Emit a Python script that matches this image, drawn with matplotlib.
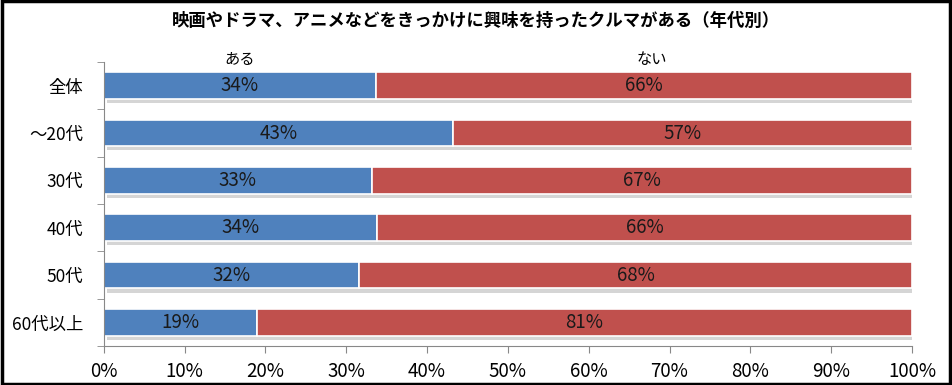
import matplotlib.pyplot as plt
import matplotlib.patheffects as pe
import numpy as np

plt.rcParams['font.family'] = ['Noto Sans CJK JP', 'DejaVu Sans']

# data (bar lengths, labels as printed)
categories = ['全体', '～20代', '30代', '40代', '50代', '60代以上']
yes_vals = [33.7, 43.2, 33.2, 33.8, 31.6, 18.9]
no_vals = [100 - v for v in yes_vals]
yes_labels = ['34%', '43%', '33%', '34%', '32%', '19%']
no_labels = ['66%', '57%', '67%', '66%', '68%', '81%']
series_names = ['ある', 'ない']

blue = '#4F81BD'
red = '#C0504D'

fig = plt.figure(figsize=(9.52, 3.85), dpi=100)
ax = fig.add_axes([0.109, 0.101, 0.849, 0.738])

y = np.arange(len(categories))
shadow = [pe.SimplePatchShadow(offset=(2, -3), shadow_rgbFace='#888888', alpha=0.35), pe.Normal()]

b1 = ax.barh(y, yes_vals, height=0.56, color=blue, edgecolor='white', linewidth=1.2)
b2 = ax.barh(y, no_vals, left=yes_vals, height=0.56, color=red, edgecolor='white', linewidth=1.2)
for b in list(b1) + list(b2):
    b.set_path_effects(shadow)

for i in range(len(categories)):
    ax.text(yes_vals[i] / 2, y[i], yes_labels[i], ha='center', va='center', fontsize=13.5, color='#1a1a1a')
    ax.text(yes_vals[i] + no_vals[i] / 2, y[i], no_labels[i], ha='center', va='center', fontsize=13.5, color='#1a1a1a')

# series names above the first bar
ax.text(yes_vals[0] / 2, -0.56, series_names[0], ha='center', va='center', fontsize=11)
ax.text(yes_vals[0] + no_vals[0] / 2 + 1, -0.56, series_names[1], ha='center', va='center', fontsize=11)

ax.set_xlim(0, 100)
ax.set_ylim(len(categories) - 0.5, -0.5)
ax.set_xticks(np.arange(0, 101, 10))
ax.set_xticklabels([f'{t}%' for t in range(0, 101, 10)], fontsize=13.5)
ax.set_yticks(y)
ax.set_yticklabels(categories, fontsize=12.5)
ax.tick_params(axis='y', length=0, pad=15)
ax.set_yticks(np.arange(-0.5, len(categories), 1), minor=True)
ax.tick_params(axis='y', which='minor', length=5, color='#888888')
ax.tick_params(axis='x', length=5, color='#888888', direction='out', pad=6)

for s in ['top', 'right']:
    ax.spines[s].set_visible(False)
for s in ['left', 'bottom']:
    ax.spines[s].set_color('#888888')

fig.text(0.5, 0.945, '映画やドラマ、アニメなどをきっかけに興味を持ったクルマがある（年代別）',
         ha='center', va='center', fontsize=12.5, fontweight='bold')

# outer frame
fig.patches.append(plt.Rectangle((0.002, 0.003), 0.996, 0.994, transform=fig.transFigure,
                                 fill=False, edgecolor='black', linewidth=2.5))

fig.savefig('out.png', dpi=100)
